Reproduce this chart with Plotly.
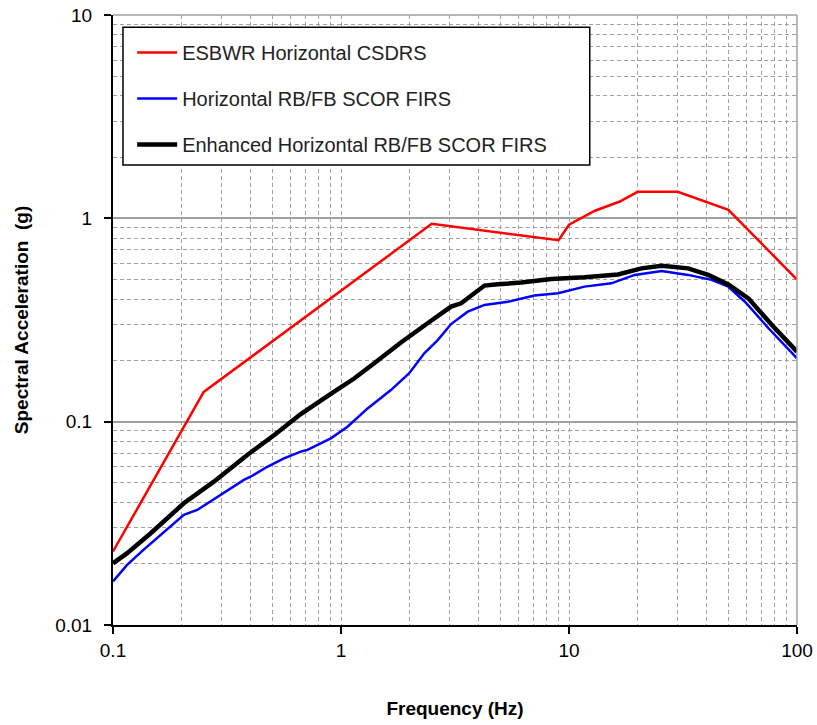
# Spectral acceleration vs frequency - log-log plot
import plotly.graph_objects as go

# ESBWR Horizontal CSDRS
red_f = [0.1, 0.25, 2.5, 9.0, 10.0, 13.0, 16.7, 20.0, 30.0, 50.0, 100.0]
red_a = [0.023, 0.14, 0.94, 0.78, 0.93, 1.09, 1.21, 1.35, 1.35, 1.10, 0.50]

# Horizontal RB/FB SCOR FIRS
blue_f = [0.1, 0.115, 0.136, 0.2045, 0.234, 0.296, 0.375, 0.401, 0.475, 0.562,
          0.666, 0.713, 0.902, 1.068, 1.308, 1.655, 1.992, 2.319, 2.656, 3.04,
          3.597, 4.26, 5.39, 7.06, 8.95, 11.7, 15.35, 19.4, 25.5, 33.3,
          42.2, 50.0, 59.1, 75.0, 100.0]
blue_a = [0.0164, 0.0197, 0.0234, 0.0348, 0.0368, 0.0436, 0.0517, 0.0536, 0.060, 0.066,
          0.0712, 0.0726, 0.0828, 0.0945, 0.1162, 0.143, 0.173, 0.217, 0.252, 0.302,
          0.3475, 0.375, 0.389, 0.417, 0.428, 0.4615, 0.479, 0.527, 0.551, 0.527,
          0.498, 0.461, 0.389, 0.288, 0.205]

# Enhanced Horizontal RB/FB SCOR FIRS
black_f = [0.1, 0.115, 0.146, 0.2045, 0.277, 0.388, 0.51, 0.666, 0.933, 1.142,
           1.398, 1.832, 2.45, 3.04, 3.363, 4.26, 4.87, 6.17, 8.36, 11.7,
           16.4, 20.8, 25.5, 33.3, 40.8, 50.0, 61.2, 77.6, 100.0]
black_a = [0.0201, 0.0225, 0.0282, 0.0397, 0.0507, 0.0686, 0.086, 0.109, 0.1405, 0.163,
           0.1936, 0.245, 0.31, 0.368, 0.382, 0.467, 0.4735, 0.483, 0.503, 0.513,
           0.530, 0.5675, 0.585, 0.5675, 0.527, 0.4735, 0.404, 0.299, 0.221]

font = "Liberation Sans, Arial, sans-serif"

data = [
    go.Scatter(x=red_f, y=red_a, mode='lines', name='ESBWR Horizontal CSDRS',
               line=dict(color='#ff0000', width=2.5), legendgroup='a'),
    go.Scatter(x=blue_f, y=blue_a, mode='lines', name='Horizontal RB/FB SCOR FIRS',
               line=dict(color='#0000ff', width=2.5), legendgroup='b'),
    go.Scatter(x=black_f, y=black_a, mode='lines', name='Enhanced Horizontal RB/FB SCOR FIRS',
               line=dict(color='#000000', width=4.5), legendgroup='c'),
]

dash = "4px,3px"
grid_col = '#a0a0a0'

layout = go.Layout(
    width=817, height=725,
    margin=dict(l=113, r=20, t=15, b=100, autoexpand=False),
    plot_bgcolor='white', paper_bgcolor='white',
    font=dict(family=font, size=19, color='black'),
    showlegend=True,
    legend=dict(x=0.028, y=0.9705, xanchor='left', yanchor='top',
                bgcolor='rgba(0,0,0,0)', borderwidth=0,
                font=dict(size=20, color='#222222'), tracegroupgap=17,
                itemwidth=40),
    xaxis=dict(type='log', range=[-1, 2], dtick=1, automargin=False,
               tickvals=[0.1, 1, 10, 100], ticktext=['0.1', '1', '10', '100'],
               showline=True, linecolor='black', linewidth=2,
               ticks='outside', ticklen=7, tickcolor='black', tickwidth=1.5,
               ticklabelstandoff=0, ticklabeloverflow='allow',
               showgrid=True, gridcolor=grid_col, griddash=dash, gridwidth=1.3,
               minor=dict(dtick='D1', showgrid=True, gridcolor=grid_col,
                          griddash=dash, gridwidth=1.3, ticks=''),
               zeroline=False,
               title=dict(text='<b>Frequency (Hz)</b>', standoff=42,
                          font=dict(size=19, color='black'))),
    yaxis=dict(type='log', range=[-2, 1], dtick=1, automargin=False,
               tickvals=[0.01, 0.1, 1, 10], ticktext=['0.01', '0.1', '1', '10'],
               showline=True, linecolor='black', linewidth=2,
               ticks='outside', ticklen=7, tickcolor='black', tickwidth=1.5,
               ticklabelstandoff=8, ticklabeloverflow='allow',
               showgrid=True, gridcolor=grid_col, gridwidth=1.5,
               minor=dict(dtick='D1', showgrid=True, gridcolor=grid_col,
                          griddash=dash, gridwidth=1.3, ticks=''),
               zeroline=False,
               title=dict(text='<b>Spectral Acceleration  (g)</b>', standoff=22,
                          font=dict(size=19, color='black'))),
    shapes=[
        # right and top frame lines
        dict(type='line', xref='paper', yref='paper', x0=1, x1=1, y0=0, y1=1,
             line=dict(color=grid_col, width=1.5)),
        dict(type='line', xref='paper', yref='paper', x0=0, x1=1, y0=1, y1=1,
             line=dict(color=grid_col, width=1.5)),
        # legend box
        dict(type='rect', xref='paper', yref='paper', x0=0.0146, x1=0.697,
             y0=0.754, y1=0.980, layer='above', fillcolor='white',
             line=dict(color='black', width=1.5)),
    ],
)

fig = go.Figure(data=data, layout=layout)
# drop the default 8px page margin so the 817x725 figure fills the window
fig.write_html("out.html", config={'displayModeBar': False},
               post_script="document.body.style.margin='0';")
